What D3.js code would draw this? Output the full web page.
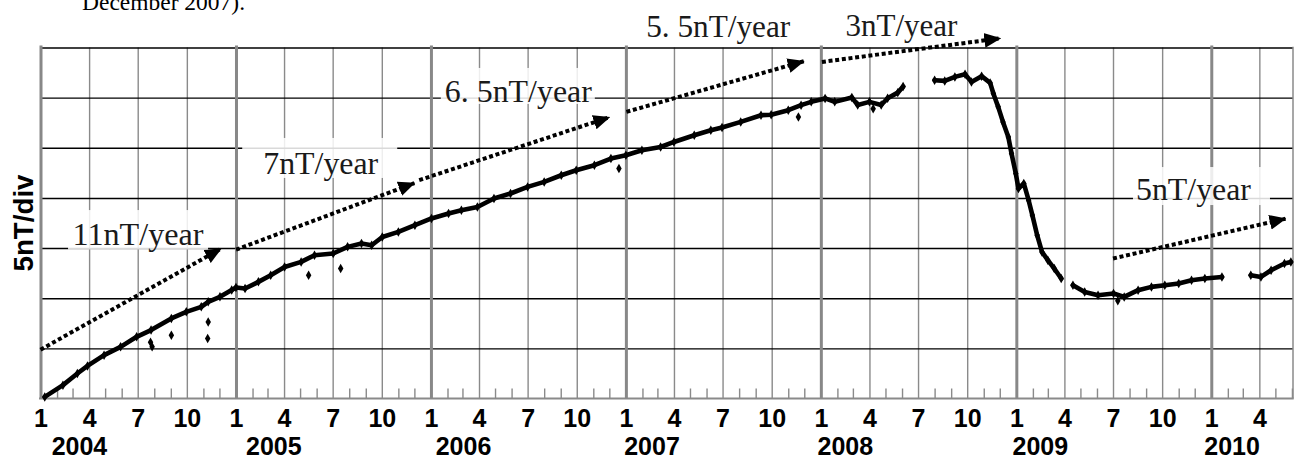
<!DOCTYPE html>
<html><head><meta charset="utf-8">
<script src="https://cdn.jsdelivr.net/npm/d3@7"></script>
<style>html,body{margin:0;padding:0;background:#fff;} svg{display:block}</style>
</head><body>
<svg id="chart" width="1300" height="460"></svg>
<script>
// ---------- data ----------
const xStart = "2004-01-01";
const xEnd = "2010-06-03";
// observed field values (nT, relative); null marks a data gap
const obsDates = [
 "2004-01-09","2004-02-12","2004-03-10","2004-03-29","2004-04-29","2004-05-30","2004-06-29","2004-07-26",
 "2004-09-02","2004-09-30","2004-10-28","2004-11-10","2004-12-02","2004-12-24","2005-01-01","2005-01-18",
 "2005-02-12","2005-03-07","2005-04-02","2005-05-03","2005-05-28","2005-07-02","2005-07-29","2005-08-24",
 "2005-09-12","2005-10-02","2005-11-01","2005-12-02","2006-01-02","2006-02-03","2006-02-27","2006-03-29",
 "2006-04-29","2006-05-30","2006-07-01","2006-08-01","2006-09-02","2006-09-30","2006-11-03","2006-12-04",
 "2007-01-01","2007-01-31","2007-03-07","2007-04-01","2007-05-09","2007-06-09","2007-06-30","2007-08-04",
 "2007-09-11","2007-09-30","2007-11-01","2007-11-25","2007-12-14","2008-01-09","2008-01-27","2008-02-28",
 "2008-03-10","2008-04-01","2008-04-23","2008-05-05","2008-05-24","2008-06-03",
 "2008-07-01",
 "2008-08-01","2008-08-20","2008-09-08","2008-09-27","2008-10-09","2008-10-28","2008-11-13","2008-11-19",
 "2008-11-28","2008-12-07","2008-12-17","2008-12-23","2008-12-31","2009-01-05","2009-01-15","2009-01-24",
 "2009-01-31","2009-02-09","2009-02-18","2009-03-01","2009-03-13","2009-03-26",
 "2009-04-05",
 "2009-04-17","2009-05-09","2009-06-03","2009-07-02","2009-07-22","2009-08-17","2009-09-11","2009-10-06",
 "2009-11-01","2009-11-25","2009-12-20","2010-01-21",
 "2010-02-20",
 "2010-03-16","2010-04-04","2010-04-23","2010-05-18","2010-05-30"
];
const obsValues = [
 0.16,1.33,2.49,3.25,4.32,5.15,6.15,6.82,
 7.98,8.64,9.14,9.64,10.14,10.81,11.07,10.97,
 11.63,12.29,13.12,13.62,14.29,14.46,15.12,15.45,
 15.28,16.11,16.61,17.28,17.95,18.45,18.77,19.10,
 19.94,20.44,21.10,21.60,22.26,22.76,23.26,23.93,
 24.26,24.76,25.08,25.58,26.25,26.75,27.02,27.58,
 28.25,28.30,28.75,29.25,29.58,29.92,29.58,30.02,
 29.27,29.58,29.27,29.94,30.50,31.10,
 null,
 31.74,31.67,32.07,32.34,31.57,32.14,31.47,30.41,
 29.08,27.58,26.08,24.43,22.43,20.94,21.44,19.77,
 18.28,16.28,14.62,13.79,12.96,11.96,
 null,
 11.30,10.63,10.30,10.47,10.13,10.80,11.13,11.30,
 11.47,11.80,11.96,12.12,
 null,
 12.29,12.12,12.79,13.46,13.62
];
// isolated scattered readings
const outlierDates = ["2004-07-25","2004-07-28","2004-09-02","2004-11-09","2004-11-10","2005-05-17","2005-07-16","2006-12-19","2007-11-20","2008-04-08","2009-07-10"];
const outlierValues = [5.6,5.15,6.3,5.99,7.64,12.3,12.97,22.93,28.07,28.9,9.74];

// trend arrows (start date, start value, end date, end value)
const arrowStartDates = ["2004-01-01","2005-01-01","2005-12-10","2007-01-02","2008-01-03","2009-07-01"];
const arrowStartValues = [4.87,14.84,21.77,28.58,33.56,13.96];
const arrowEndDates = ["2004-12-04","2005-12-01","2006-12-01","2007-11-30","2008-12-02","2010-05-20"];
const arrowEndValues = [14.94,21.47,28.05,33.63,35.92,17.93];

// rate labels
const rateLabels = ["11nT/year","7nT/year","6. 5nT/year","5. 5nT/year","3nT/year","5nT/year"];
const rateLabelDates = ["2004-03-01","2005-02-21","2006-01-27","2007-02-08","2008-02-16","2009-08-13"];
const rateLabelValues = [15.35,22.34,29.57,36.06,36.16,19.79];

// axis labels
const gridValues = [5,10,15,20,25,30,35];
const yearLabels = ["2004","2005","2006","2007","2008","2009","2010"];
const yearLabelDates = ["2004-03-13","2005-03-12","2006-03-02","2007-02-18","2008-02-15","2009-02-14","2010-02-08"];
const yAxisTitle = "5nT/div";
const captionTail = "December 2007).";

// ---------- layout / style ----------
const L = 40.5, R = 1293, T = 47.5, B = 398.5;
const labelStyle = [ // text width, box [dx, dy, w, h] or null
 {w:131, box:[-4.5,-34.5,140,39.5]},
 {w:115, box:[-21,-36.5,155,40]},
 {w:147, box:[-4,-34,154,36]},
 {w:144, box:null},
 {w:112, box:null},
 {w:115, box:[-3,-33,137,38]}
];

const parse = d3.timeParse("%Y-%m-%d");
const x = d3.scaleTime().domain([parse(xStart), parse(xEnd)]).range([L, R]);
const y = d3.scaleLinear().domain([0, 35]).range([B, T]);
const svg = d3.select("#chart");

// caption fragment at top (cut by the page edge, as in the source)
svg.append("text").attr("x", 82).attr("y", 10)
  .attr("font-family","'Liberation Serif','Times New Roman',serif").attr("font-size",23)
  .attr("textLength",163).attr("lengthAdjust","spacingAndGlyphs")
  .attr("fill","#000").text(captionTail);

// month grids
const months = d3.timeMonth.range(x.domain()[0], x.domain()[1]);
const yearStarts = months.filter(d => d.getMonth() === 0);
const quarterLines = months.filter(d => d.getMonth() % 3 === 0 && d.getMonth() !== 0);
const minorMonths = months.filter(d => d.getMonth() % 3 !== 0);
const quarterAll = months.filter(d => d.getMonth() % 3 === 0);

function vgrid(values, size, color, width) {
  svg.append("g").attr("transform", `translate(0,${B})`)
    .call(d3.axisBottom(x).tickValues(values).tickSize(-size).tickFormat(""))
    .call(g => g.select(".domain").remove())
    .call(g => g.selectAll("line").attr("stroke", color).attr("stroke-width", width));
}
vgrid(quarterLines, B - T, "#8a8a8a", 1.4);
vgrid(minorMonths, 10, "#8a8a8a", 1.4);

// horizontal grid (black)
svg.append("g").attr("transform", `translate(${L},0)`)
  .call(d3.axisLeft(y).tickValues(gridValues).tickSize(-(R - L)).tickFormat(""))
  .call(g => g.select(".domain").remove())
  .call(g => g.selectAll("line").attr("stroke", "#000").attr("stroke-width", 1.4));

vgrid(yearStarts, B - T + 2, "#888", 3);
// right border and bottom axis
svg.append("line").attr("x1", R).attr("x2", R).attr("y1", T - 0.7).attr("y2", B)
  .attr("stroke", "#8a8a8a").attr("stroke-width", 1.5);
svg.append("line").attr("x1", L - 1.5).attr("x2", R + 0.7).attr("y1", B).attr("y2", B)
  .attr("stroke", "#8a8a8a").attr("stroke-width", 2);

// month labels
svg.append("g").attr("transform", `translate(0,426.5)`)
  .call(d3.axisBottom(x).tickValues(quarterAll).tickSize(0).tickFormat(d => d.getMonth() + 1))
  .call(g => g.select(".domain").remove())
  .call(g => g.selectAll("text").attr("y", 0).attr("dy", 0)
     .attr("font-family", "'Liberation Sans',Arial,sans-serif").attr("font-weight", "bold")
     .attr("font-size", 25).attr("fill", "#000"));
// year labels
svg.append("g").attr("transform", `translate(0,454.5)`)
  .call(d3.axisBottom(x).tickValues(yearLabelDates.map(parse)).tickSize(0).tickFormat((d, i) => yearLabels[i]))
  .call(g => g.select(".domain").remove())
  .call(g => g.selectAll("text").attr("y", 0).attr("dy", 0)
     .attr("font-family", "'Liberation Sans',Arial,sans-serif").attr("font-weight", "bold")
     .attr("font-size", 25).attr("fill", "#000"));

// y title
svg.append("text").attr("transform", "translate(33,223) rotate(-90)")
  .attr("text-anchor", "middle")
  .attr("font-family", "'Liberation Sans',Arial,sans-serif").attr("font-weight", "bold")
  .attr("font-size", 28).attr("textLength", 97).attr("lengthAdjust", "spacingAndGlyphs")
  .attr("fill", "#000").text(yAxisTitle);

// data
const obs = obsDates.map((d, i) => ({ date: parse(d), value: obsValues[i] }));
svg.append("path").datum(obs)
  .attr("d", d3.line().defined(d => d.value !== null).x(d => x(d.date)).y(d => y(d.value)))
  .attr("fill", "none").attr("stroke", "#000").attr("stroke-width", 4.6)
  .attr("stroke-linejoin", "round").attr("stroke-linecap", "round");
const sym = d3.symbol().type(d3.symbolDiamond).size(26);
svg.append("g").selectAll("path").data(obs.filter(d => d.value !== null)).join("path")
  .attr("transform", d => `translate(${x(d.date)},${y(d.value)})`).attr("d", sym).attr("fill", "#000");
svg.append("g").selectAll("path").data(outlierDates.map((d, i) => ({ date: parse(d), value: outlierValues[i] }))).join("path")
  .attr("transform", d => `translate(${x(d.date)},${y(d.value)})`).attr("d", sym).attr("fill", "#000");

// arrows
const defs = svg.append("defs");
defs.append("marker").attr("id", "head").attr("markerUnits", "userSpaceOnUse")
  .attr("viewBox", "0 -8 17 16").attr("refX", 16).attr("refY", 0)
  .attr("markerWidth", 17).attr("markerHeight", 16).attr("orient", "auto")
  .append("path").attr("d", "M0,-7.5L17,0L0,7.5Z").attr("fill", "#000");
arrowStartDates.forEach((s, i) => {
  svg.append("line")
    .attr("x1", x(parse(s))).attr("y1", y(arrowStartValues[i]))
    .attr("x2", x(parse(arrowEndDates[i]))).attr("y2", y(arrowEndValues[i]))
    .attr("stroke", "#000").attr("stroke-width", 4).attr("stroke-dasharray", "4 2.7")
    .attr("marker-end", "url(#head)");
});

// rate labels with translucent boxes
rateLabels.forEach((t, i) => {
  const px = x(parse(rateLabelDates[i])), py = y(rateLabelValues[i]);
  const st = labelStyle[i];
  if (st.box) {
    svg.append("rect").attr("x", px + st.box[0]).attr("y", py + st.box[1])
      .attr("width", st.box[2]).attr("height", st.box[3])
      .attr("fill", "#fff").attr("fill-opacity", 0.85);
  }
  svg.append("text").attr("x", px).attr("y", py)
    .attr("font-family", "'Liberation Serif','Times New Roman',serif").attr("font-size", 31)
    .attr("textLength", st.w).attr("lengthAdjust", "spacingAndGlyphs")
    .attr("fill", "#1a1a1a").text(t);
});
</script>
</body></html>
